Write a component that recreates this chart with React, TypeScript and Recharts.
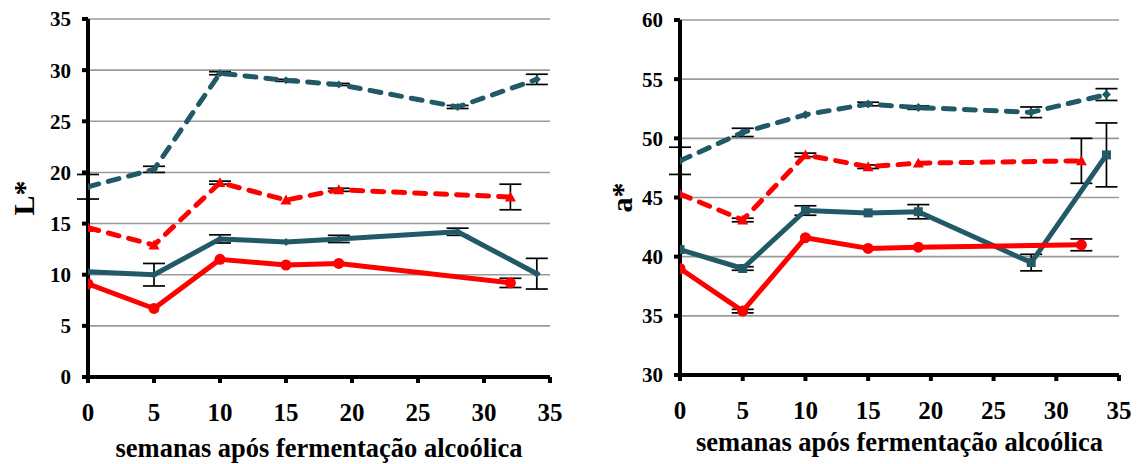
import React from 'react';
import { LineChart, Line, XAxis, YAxis, CartesianGrid, ErrorBar, Label } from 'recharts';

const TEAL = '#215967';
const RED = '#FF0000';
const FONT = 'Liberation Serif, Times New Roman, serif';

// weeks after alcoholic fermentation
const weeksLong = [0, 5, 10, 15, 19, 28, 34];
const weeksShort = [0, 5, 10, 15, 19, 32];
const xTicks = [0, 5, 10, 15, 20, 25, 30, 35];

const lTicks = [0, 5, 10, 15, 20, 25, 30, 35];
const aTicks = [30, 35, 40, 45, 50, 55, 60];

// L*
const lTealDashed = [18.6, 20.3, 29.7, 29.0, 28.6, 26.4, 29.1];
const lTealDashedErr = [1.2, 0.3, 0.15, 0.1, 0.1, 0.15, 0.5];
const lRedDashed = [14.6, 12.9, 19.0, 17.3, 18.3, 17.6];
const lRedDashedErr = [null, null, 0.15, null, 0.15, 1.25];
const lTealSolid = [10.3, 10.0, 13.5, 13.2, 13.5, 14.2, 10.1];
const lTealSolidErr = [null, 1.1, 0.4, null, 0.35, 0.35, 1.5];
const lRedSolid = [9.1, 6.7, 11.5, 10.95, 11.1, 9.2];
const lRedSolidErr = [null, null, null, null, null, 0.45];

// a*
const aTealDashed = [48.1, 50.5, 52.0, 52.9, 52.6, 52.2, 53.7];
const aTealDashedErr = [1.15, 0.35, null, 0.15, 0.15, 0.45, 0.5];
const aRedDashed = [45.3, 43.1, 48.6, 47.6, 47.9, 48.1];
const aRedDashedErr = [null, 0.15, 0.15, 0.15, null, 1.9];
const aTealSolid = [40.6, 39.0, 43.9, 43.7, 43.8, 39.5, 48.6];
const aTealSolidErr = [null, 0.15, 0.4, null, 0.6, 0.7, 2.7];
const aRedSolid = [39.0, 35.4, 41.6, 40.7, 40.8, 41.0];
const aRedSolidErr = [null, 0.15, null, null, null, 0.5];

type Row = { x: number; y: number; e: number | null };
const rows = (xs: number[], ys: number[], es: (number | null)[]): Row[] =>
  xs.map((x, i) => ({ x, y: ys[i], e: es[i] }));

type Shape = 'diamond' | 'triangle' | 'square' | 'circle';

const makeDot = (shape: Shape, color: string, size: number) => (props: any) => {
  const { cx, cy, index } = props;
  if (cx == null || cy == null) return <g key={`n-${index}`} />;
  const s = size / 2;
  let d = '';
  if (shape === 'diamond') d = `M${cx},${cy - s}L${cx + s},${cy}L${cx},${cy + s}L${cx - s},${cy}Z`;
  if (shape === 'triangle') d = `M${cx},${cy - s}L${cx + s},${cy + s * 0.8}L${cx - s},${cy + s * 0.8}Z`;
  if (shape === 'square') d = `M${cx - s},${cy - s}H${cx + s}V${cy + s}H${cx - s}Z`;
  if (shape === 'circle') return <circle key={`d-${index}`} cx={cx} cy={cy} r={s} fill={color} />;
  return <path key={`d-${index}`} d={d} fill={color} />;
};

const tickStyleY = { fill: '#000', fontSize: 21, fontWeight: 'bold', fontFamily: FONT };
const tickStyleX = { fill: '#000', fontSize: 25, fontWeight: 'bold', fontFamily: FONT };
const axisStroke = { stroke: '#000', strokeWidth: 4 };

const yTitle = (text: string, dx: number) => (props: any) => {
  const vb = props.viewBox;
  const x = vb.x + dx;
  const y = vb.y + vb.height / 2;
  return (
    <text
      x={x}
      y={y}
      transform={`rotate(-90 ${x} ${y})`}
      textAnchor="middle"
      dominantBaseline="central"
      fontFamily={FONT}
      fontWeight="bold"
      fontSize={30}
      fill="#000"
    >
      {text}
    </text>
  );
};

type SeriesDef = {
  data: Row[];
  color: string;
  dashed: boolean;
  shape: Shape;
  size: number;
};

const renderSeries = (defs: SeriesDef[]) =>
  defs.map((s, i) => (
    <Line
      key={i}
      data={s.data}
      dataKey="y"
      type="linear"
      stroke={s.color}
      strokeWidth={5}
      strokeDasharray={s.dashed ? '11 10' : undefined}
      strokeLinecap="round"
      strokeLinejoin="round"
      dot={makeDot(s.shape, s.color, s.size)}
      activeDot={false}
      isAnimationActive={false}
    >
      <ErrorBar dataKey="e" direction="y" width={11} stroke="#000" strokeWidth={1.7} />
    </Line>
  ));

const lSeries: SeriesDef[] = [
  { data: rows(weeksLong, lTealDashed, lTealDashedErr), color: TEAL, dashed: true, shape: 'diamond', size: 8 },
  { data: rows(weeksShort, lRedDashed, lRedDashedErr), color: RED, dashed: true, shape: 'triangle', size: 11 },
  { data: rows(weeksLong, lTealSolid, lTealSolidErr), color: TEAL, dashed: false, shape: 'diamond', size: 8 },
  { data: rows(weeksShort, lRedSolid, lRedSolidErr), color: RED, dashed: false, shape: 'circle', size: 11 },
];

const aSeries: SeriesDef[] = [
  { data: rows(weeksLong, aTealDashed, aTealDashedErr), color: TEAL, dashed: true, shape: 'diamond', size: 9 },
  { data: rows(weeksShort, aRedDashed, aRedDashedErr), color: RED, dashed: true, shape: 'triangle', size: 11 },
  { data: rows(weeksLong, aTealSolid, aTealSolidErr), color: TEAL, dashed: false, shape: 'square', size: 9 },
  { data: rows(weeksShort, aRedSolid, aRedSolidErr), color: RED, dashed: false, shape: 'circle', size: 11 },
];

const X_TITLE = 'semanas após fermentação alcoólica';
const xTitleStyle = { fontFamily: FONT, fontWeight: 'bold', fontSize: 26.5, fill: '#000' };

export default function App() {
  return (
    <div style={{ position: 'absolute', left: 0, top: 0, width: 1137, height: 464, background: '#fff' }}>
      <div style={{ position: 'absolute', left: 0, top: 0 }}>
        <LineChart width={565} height={464} margin={{ top: 19, right: 15, bottom: 0, left: 0 }}>
          <CartesianGrid vertical={false} stroke="#9a9a9a" strokeWidth={1.6} />
          <XAxis
            type="number"
            dataKey="x"
            domain={[0, 35]}
            ticks={xTicks}
            allowDataOverflow
            height={87}
            tick={tickStyleX}
            tickLine={axisStroke}
            axisLine={axisStroke}
            tickSize={6}
            tickMargin={20}
          >
            <Label value={X_TITLE} position="insideBottom" offset={7} style={xTitleStyle} />
          </XAxis>
          <YAxis
            type="number"
            domain={[0, 35]}
            ticks={lTicks}
            allowDataOverflow
            width={88}
            tick={tickStyleY}
            tickLine={axisStroke}
            axisLine={axisStroke}
            tickSize={6}
            tickMargin={11}
          >
            <Label content={yTitle('L*', 23)} />
          </YAxis>
          {renderSeries(lSeries)}
        </LineChart>
      </div>
      <div style={{ position: 'absolute', left: 570, top: 0 }}>
        <LineChart width={567} height={464} margin={{ top: 20, right: 18, bottom: 0, left: 0 }}>
          <CartesianGrid vertical={false} stroke="#9a9a9a" strokeWidth={1.6} />
          <XAxis
            type="number"
            dataKey="x"
            domain={[0, 35]}
            ticks={xTicks}
            allowDataOverflow
            height={89}
            tick={tickStyleX}
            tickLine={axisStroke}
            axisLine={axisStroke}
            tickSize={6}
            tickMargin={20}
          >
            <Label value={X_TITLE} position="insideBottom" offset={13} style={xTitleStyle} />
          </XAxis>
          <YAxis
            type="number"
            domain={[30, 60]}
            ticks={aTicks}
            allowDataOverflow
            width={110}
            tick={tickStyleY}
            tickLine={axisStroke}
            axisLine={axisStroke}
            tickSize={6}
            tickMargin={11}
          >
            <Label content={yTitle('a*', 51)} />
          </YAxis>
          {renderSeries(aSeries)}
        </LineChart>
      </div>
    </div>
  );
}
